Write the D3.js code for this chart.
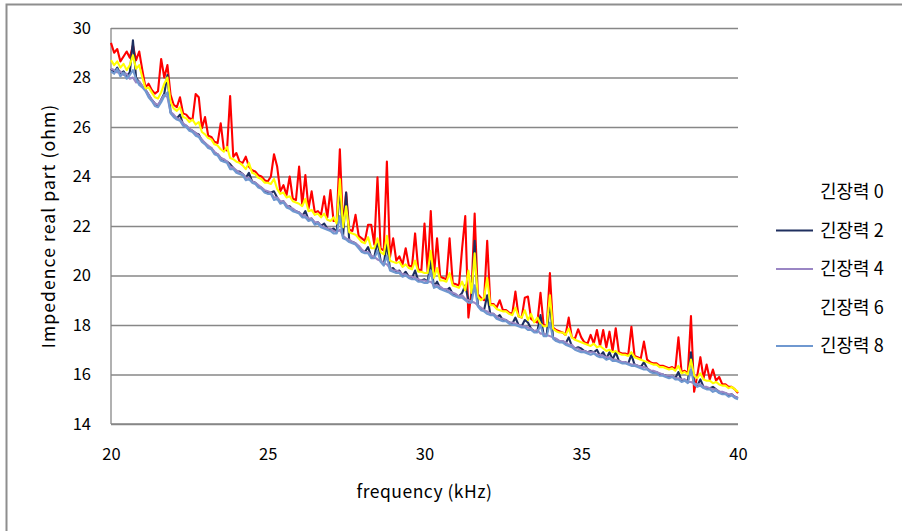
<!DOCTYPE html>
<html>
<head>
<meta charset="utf-8">
<script src="https://cdn.jsdelivr.net/npm/d3@7"></script>
<style>
  body { margin: 0; background: #fff; }
  text { font-family: "Noto Sans CJK KR", "Noto Sans", sans-serif; fill: #000; }
</style>
</head>
<body>
<div id="wrapper"></div>
<script>
// tension force series, frequency 20.0 .. 40.0 kHz in 0.1 kHz steps
const seriesNames = ["긴장력 0", "긴장력 2", "긴장력 4", "긴장력 6", "긴장력 8"];
const xTicks = [20, 25, 30, 35, 40];
const yTicks = [14, 16, 18, 20, 22, 24, 26, 28, 30];
const freqStart = 20;
const freqStep = 0.1;

const tension0 = [
  29.4, 29.0, 29.15, 28.65, 28.85, 29.05, 28.8, 29.3, 28.7, 29.05,
  28.3, 27.6, 27.75, 27.5, 27.35, 27.45, 28.75, 28.0, 28.5, 27.3,
  26.9, 26.8, 27.2, 26.55, 26.5, 26.35, 26.3, 27.33, 27.2, 25.95,
  26.4, 25.65, 25.6, 25.4, 25.35, 26.15, 25.1, 25.05, 27.25, 24.8,
  24.95, 24.6, 24.55, 24.8, 24.4, 24.25, 24.2, 24.05, 24.0, 23.85,
  23.8, 24.0, 24.9, 24.4, 23.4, 23.65, 23.25, 24.0, 23.1, 23.05,
  24.4, 22.85, 24.06, 22.7, 23.4, 22.55, 22.6, 22.45, 23.2, 22.35,
  23.45, 22.2, 22.2, 25.1, 22.0, 23.35, 21.85, 21.8, 22.45, 21.6,
  21.5, 21.4, 22.05, 22.05, 21.25, 23.97, 21.1, 21.0, 24.6, 20.75,
  21.5, 20.6, 20.77, 20.45, 21.1, 20.4, 20.35, 21.7, 20.25, 20.2,
  22.1, 20.15, 22.6, 20.0, 21.5, 19.95, 19.9, 19.85, 21.5, 19.7,
  19.65, 19.6, 21.1, 22.4, 18.3, 19.35, 22.5, 19.25, 19.1, 19.0,
  21.4, 18.85, 18.85, 18.7, 19.0, 18.6, 18.6, 18.5, 18.45, 19.35,
  18.35, 18.3, 19.1, 19.15, 18.25, 18.15, 18.1, 19.3, 18.0, 17.95,
  20.1, 17.9, 17.8, 17.75, 17.7, 17.6, 18.3, 17.5, 17.45, 17.83,
  17.5, 17.3, 17.25, 17.6, 17.25, 17.8, 17.15, 17.8, 17.1, 17.73,
  16.95, 17.87, 16.9, 16.85, 16.85, 16.8, 17.93, 16.75, 16.7, 16.65,
  17.33, 16.6, 16.5, 16.45, 16.45, 16.35, 16.35, 16.3, 16.25, 16.3,
  16.2, 17.5, 16.1, 16.15, 16.05, 18.36, 15.3, 15.95, 16.7, 15.85,
  16.4, 15.8, 16.2, 15.75, 15.9, 15.6, 15.6, 15.5, 15.5, 15.4,
  15.25
];

const tension2 = [
  28.35, 28.2, 28.4, 28.15, 28.25, 28.05, 28.2, 29.5, 28.0, 27.8,
  27.65, 27.5, 27.3, 27.1, 26.95, 26.85, 27.1, 27.35, 28.1, 26.6,
  26.45, 26.35, 26.5, 26.1, 26.05, 25.9, 25.85, 25.75, 25.7, 25.45,
  25.35, 25.2, 25.15, 24.95, 24.9, 24.75, 24.65, 24.6, 24.5, 24.35,
  24.2, 24.2, 24.1, 23.95, 24.15, 23.8, 23.75, 23.6, 23.55, 23.4,
  23.35, 23.35, 23.4, 23.15, 22.95, 23.0, 22.8, 22.8, 22.65, 22.6,
  22.55, 22.4, 22.6, 22.25, 22.3, 22.1, 22.15, 22.0, 22.1, 21.9,
  21.85, 21.9, 21.75, 23.6, 21.55, 23.35, 21.4, 21.35, 21.3, 21.15,
  21.0, 20.95, 21.15, 20.75, 20.75, 21.4, 20.6, 20.45, 21.3, 20.25,
  20.3, 20.15, 20.2, 20.0, 20.15, 19.95, 19.9, 20.2, 19.8, 19.8,
  19.85, 19.75, 20.6, 19.55, 19.75, 19.5, 19.45, 19.4, 19.5, 19.25,
  19.2, 19.15, 19.3, 19.6, 19.0, 18.95, 21.4, 18.8, 18.65, 18.6,
  19.2, 18.45, 18.45, 18.3, 18.4, 18.2, 18.2, 18.1, 18.05, 18.3,
  18.0, 17.95, 18.2, 18.1, 17.85, 17.75, 17.75, 18.4, 17.6, 17.6,
  19.0, 17.5, 17.4, 17.35, 17.35, 17.25, 17.5, 17.15, 17.05, 17.1,
  17.05, 16.95, 16.9, 16.95, 16.9, 17.0, 16.75, 16.9, 16.65, 16.9,
  16.6, 16.9, 16.55, 16.5, 16.5, 16.45, 16.8, 16.4, 16.35, 16.3,
  16.5, 16.25, 16.15, 16.1, 16.1, 16.0, 16.0, 15.95, 15.9, 15.95,
  15.85, 16.1, 15.75, 15.8, 15.7, 16.9, 15.65, 15.55, 15.8, 15.5,
  15.45, 15.45, 15.5, 15.4, 15.3, 15.25, 15.25, 15.15, 15.2, 15.1,
  15.05
];

const tension4 = [
  28.35, 28.3, 28.2, 28.25, 28.1, 28.15, 27.95, 28.0, 27.8, 27.85,
  27.65, 27.5, 27.3, 27.1, 26.95, 26.9, 27.1, 27.3, 27.2, 26.6,
  26.5, 26.35, 26.3, 26.15, 26.05, 25.95, 25.85, 25.75, 25.65, 25.5,
  25.35, 25.25, 25.15, 25.0, 24.9, 24.75, 24.7, 24.6, 24.4, 24.35,
  24.25, 24.15, 24.1, 23.95, 23.95, 23.8, 23.75, 23.65, 23.55, 23.45,
  23.4, 23.35, 23.15, 23.15, 23.0, 23.0, 22.85, 22.75, 22.7, 22.6,
  22.55, 22.45, 22.4, 22.3, 22.3, 22.15, 22.15, 22.0, 21.95, 21.9,
  21.9, 21.8, 21.75, 21.85, 21.6, 21.5, 21.45, 21.35, 21.3, 21.2,
  21.05, 20.95, 20.95, 20.8, 20.75, 20.65, 20.6, 20.5, 20.45, 20.3,
  20.2, 20.2, 20.15, 20.05, 20.05, 19.95, 19.95, 19.9, 19.85, 19.8,
  19.8, 19.75, 19.75, 19.6, 19.6, 19.55, 19.45, 19.45, 19.35, 19.3,
  19.25, 19.15, 19.2, 19.05, 19.0, 18.95, 18.9, 18.8, 18.7, 18.6,
  18.55, 18.45, 18.45, 18.35, 18.25, 18.25, 18.2, 18.1, 18.1, 18.05,
  18.0, 17.95, 17.95, 17.9, 17.85, 17.75, 17.8, 17.65, 17.65, 17.6,
  17.55, 17.5, 17.45, 17.35, 17.35, 17.3, 17.2, 17.2, 17.05, 17.05,
  16.95, 16.95, 16.9, 16.9, 16.9, 16.8, 16.8, 16.75, 16.7, 16.7,
  16.6, 16.6, 16.55, 16.5, 16.5, 16.45, 16.4, 16.4, 16.35, 16.3,
  16.3, 16.25, 16.15, 16.15, 16.1, 16.05, 16.0, 15.95, 15.95, 15.95,
  15.85, 15.85, 15.8, 15.8, 15.7, 15.7, 15.65, 15.6, 15.6, 15.5,
  15.5, 15.45, 15.4, 15.4, 15.3, 15.3, 15.25, 15.2, 15.2, 15.1,
  15.05
];

const tension6 = [
  28.7, 28.5, 28.65, 28.4, 28.55, 28.3, 28.5, 28.9, 28.35, 28.5,
  28.0, 27.55, 27.6, 27.4, 27.2, 27.15, 27.4, 27.75, 28.0, 27.0,
  26.75, 26.65, 26.8, 26.4, 26.35, 26.2, 26.3, 26.1, 26.2, 25.8,
  25.7, 25.55, 25.5, 25.3, 25.25, 25.1, 25.0, 25.2, 24.75, 24.7,
  24.6, 24.55, 24.45, 24.3, 24.55, 24.15, 24.1, 23.95, 23.9, 23.75,
  23.75, 23.7, 23.9, 23.5, 23.3, 23.35, 23.15, 23.2, 23.0, 22.95,
  22.9, 22.8, 23.1, 22.6, 22.65, 22.45, 22.5, 22.35, 22.5, 22.25,
  22.2, 22.35, 22.1, 23.9, 21.95, 22.8, 21.75, 21.7, 21.65, 21.5,
  21.35, 21.3, 21.55, 21.1, 21.1, 21.5, 20.95, 20.85, 21.6, 20.6,
  20.55, 20.5, 20.55, 20.35, 20.45, 20.3, 20.25, 20.6, 20.15, 20.15,
  20.1, 20.1, 21.0, 19.9, 20.3, 19.8, 19.8, 19.75, 20.1, 19.6,
  19.55, 19.5, 19.75, 19.4, 20.2, 19.3, 20.9, 19.15, 19.0, 19.1,
  19.9, 18.8, 18.8, 18.65, 18.6, 18.55, 18.55, 18.45, 18.4, 18.7,
  18.35, 18.3, 18.6, 18.2, 18.45, 18.1, 18.3, 18.05, 17.95, 17.95,
  19.2, 17.85, 17.75, 17.7, 17.7, 17.6, 17.85, 17.5, 17.4, 17.35,
  17.3, 17.25, 17.2, 17.15, 17.25, 17.1, 17.15, 17.05, 16.95, 17.0,
  16.9, 16.95, 16.85, 16.8, 16.8, 16.75, 16.9, 16.7, 16.65, 16.6,
  16.55, 16.5, 16.45, 16.4, 16.4, 16.3, 16.3, 16.25, 16.2, 16.25,
  16.15, 16.35, 16.05, 16.1, 16.0, 16.6, 15.95, 15.85, 16.05, 15.8,
  15.75, 15.75, 15.65, 15.7, 15.6, 15.55, 15.55, 15.45, 15.5, 15.4,
  15.3
];

const tension8 = [
  28.25, 28.15, 28.35, 28.05, 28.2, 27.95, 28.1, 28.3, 27.95, 27.7,
  27.6, 27.45, 27.2, 27.05, 26.85, 26.8, 27.0, 27.25, 27.4, 26.55,
  26.4, 26.3, 26.25, 26.05, 26.0, 25.85, 25.8, 25.65, 25.6, 25.4,
  25.3, 25.15, 25.1, 24.9, 24.85, 24.65, 24.6, 24.55, 24.3, 24.3,
  24.15, 24.1, 24.05, 23.85, 23.9, 23.75, 23.7, 23.55, 23.5, 23.35,
  23.3, 23.3, 23.05, 23.1, 22.9, 22.95, 22.75, 22.7, 22.6, 22.55,
  22.5, 22.35, 22.35, 22.2, 22.25, 22.05, 22.1, 21.95, 21.9, 21.85,
  21.8, 21.7, 21.7, 22.4, 21.5, 21.45, 21.35, 21.3, 21.25, 21.1,
  20.95, 20.9, 20.9, 20.7, 20.7, 21.0, 20.55, 20.4, 20.8, 20.2,
  20.15, 20.1, 20.1, 19.95, 20.0, 19.9, 19.85, 19.85, 19.75, 19.75,
  19.7, 19.7, 20.2, 19.5, 19.55, 19.45, 19.4, 19.35, 19.3, 19.2,
  19.15, 19.1, 19.1, 19.0, 18.9, 18.9, 19.6, 18.75, 18.6, 18.55,
  18.45, 18.4, 18.4, 18.25, 18.2, 18.15, 18.15, 18.05, 18.0, 18.0,
  17.95, 17.9, 17.9, 17.8, 17.8, 17.7, 17.7, 18.0, 17.55, 17.55,
  18.1, 17.45, 17.35, 17.3, 17.3, 17.2, 17.15, 17.1, 17.0, 16.95,
  16.9, 16.9, 16.85, 16.8, 16.85, 16.75, 16.7, 16.7, 16.6, 16.65,
  16.55, 16.55, 16.5, 16.45, 16.45, 16.4, 16.35, 16.35, 16.3, 16.25,
  16.2, 16.2, 16.1, 16.05, 16.05, 15.95, 15.95, 15.9, 15.85, 15.9,
  15.8, 15.8, 15.7, 15.75, 15.65, 16.2, 15.6, 15.5, 15.55, 15.45,
  15.4, 15.4, 15.3, 15.35, 15.25, 15.2, 15.2, 15.1, 15.15, 15.05,
  15.0
];

const seriesValues = [tension0, tension2, tension4, tension6, tension8];
const seriesColors = ["#ff0000", "#1f2f5f", "#9a86c4", "#ffff00", "#6f98d0"];
// the legend swatches of the red and yellow series do not show in the reference
const swatchVisible = [false, true, true, false, true];

const frequency = d3.range(tension0.length).map((i) => freqStart + i * freqStep);

let dimensions = {
  width: 902,
  height: 531,
  margin: { top: 28, right: 164, bottom: 107, left: 111 },
};
dimensions.boundedWidth =
  dimensions.width - dimensions.margin.left - dimensions.margin.right;
dimensions.boundedHeight =
  dimensions.height - dimensions.margin.top - dimensions.margin.bottom;

const wrapper = d3
  .select("#wrapper")
  .append("svg")
  .attr("width", dimensions.width)
  .attr("height", dimensions.height)
  .style("display", "block");

// slight softening, the reference plot is a scaled bitmap
wrapper.append("defs")
  .append("filter")
  .attr("id", "soft")
  .append("feGaussianBlur")
  .attr("stdDeviation", 0.55);

wrapper.append("rect")
  .attr("width", dimensions.width)
  .attr("height", dimensions.height)
  .attr("fill", "#fff");

// outer chart frame (only top and left visible)
wrapper.append("path")
  .attr("d", `M6.5,${dimensions.height} V4.5 H${dimensions.width}`)
  .attr("fill", "none")
  .attr("stroke", "#8e8e8e")
  .attr("stroke-width", 2);

const bounds = wrapper
  .append("g")
  .attr("transform", `translate(${dimensions.margin.left},${dimensions.margin.top})`);

const xScale = d3.scaleLinear()
  .domain([20, 40])
  .range([0, dimensions.boundedWidth]);

const yScale = d3.scaleLinear()
  .domain([14, 30])
  .range([dimensions.boundedHeight, 0]);

// gridlines
const grid = bounds.append("g")
  .call(d3.axisLeft(yScale).tickValues(yTicks).tickSize(-dimensions.boundedWidth).tickFormat(""));
grid.select(".domain").remove();
grid.selectAll("line").attr("stroke", "#878787").attr("stroke-width", 1.3);

// axis lines
bounds.append("line")
  .attr("x1", 0).attr("x2", 0)
  .attr("y1", 0).attr("y2", dimensions.boundedHeight)
  .attr("stroke", "#878787").attr("stroke-width", 1.3);
bounds.append("line")
  .attr("x1", 0).attr("x2", dimensions.boundedWidth)
  .attr("y1", dimensions.boundedHeight).attr("y2", dimensions.boundedHeight)
  .attr("stroke", "#878787").attr("stroke-width", 1.3);

// tick labels
const yAxis = bounds.append("g")
  .call(d3.axisLeft(yScale).tickValues(yTicks).tickSize(0).tickPadding(20));
yAxis.select(".domain").remove();
yAxis.selectAll("text").style("font-size", "16.5px").attr("fill", "#000");

const xAxis = bounds.append("g")
  .attr("transform", `translate(0,${dimensions.boundedHeight})`)
  .call(d3.axisBottom(xScale).tickValues(xTicks).tickSize(0).tickPadding(24));
xAxis.select(".domain").remove();
xAxis.selectAll("text").style("font-size", "16.5px").attr("fill", "#000");

// lines
const lineGenerator = d3.line()
  .x((d, i) => xScale(frequency[i]))
  .y((d) => yScale(d));

const lines = bounds.append("g").attr("filter", "url(#soft)");
seriesValues.forEach((values, k) => {
  lines.append("path")
    .attr("d", lineGenerator(values))
    .attr("fill", "none")
    .attr("stroke", seriesColors[k])
    .attr("stroke-width", 2.1)
    .attr("stroke-linejoin", "round");
});

// axis titles
wrapper.append("text")
  .attr("transform", `translate(55,${dimensions.margin.top + dimensions.boundedHeight / 2}) rotate(-90)`)
  .attr("text-anchor", "middle")
  .style("font-size", "17.5px")
  .style("letter-spacing", "1.1px")
  .text("Impedence real part (ohm)");

wrapper.append("text")
  .attr("x", dimensions.margin.left + dimensions.boundedWidth / 2)
  .attr("y", 498)
  .attr("text-anchor", "middle")
  .style("font-size", "17.5px")
  .style("letter-spacing", "0.5px")
  .text("frequency (kHz)");

// legend
const legend = wrapper.append("g").attr("transform", "translate(776,192)");
seriesNames.forEach((name, k) => {
  const row = legend.append("g").attr("transform", `translate(0,${k * 38.5})`);
  if (swatchVisible[k]) {
    row.append("line")
      .attr("x1", 0).attr("x2", 37)
      .attr("stroke", seriesColors[k])
      .attr("stroke-width", 2);
  }
  row.append("text")
    .attr("x", 44)
    .attr("dy", "0.35em")
    .style("font-size", "18px")
    .text(name);
});
</script>
</body>
</html>
